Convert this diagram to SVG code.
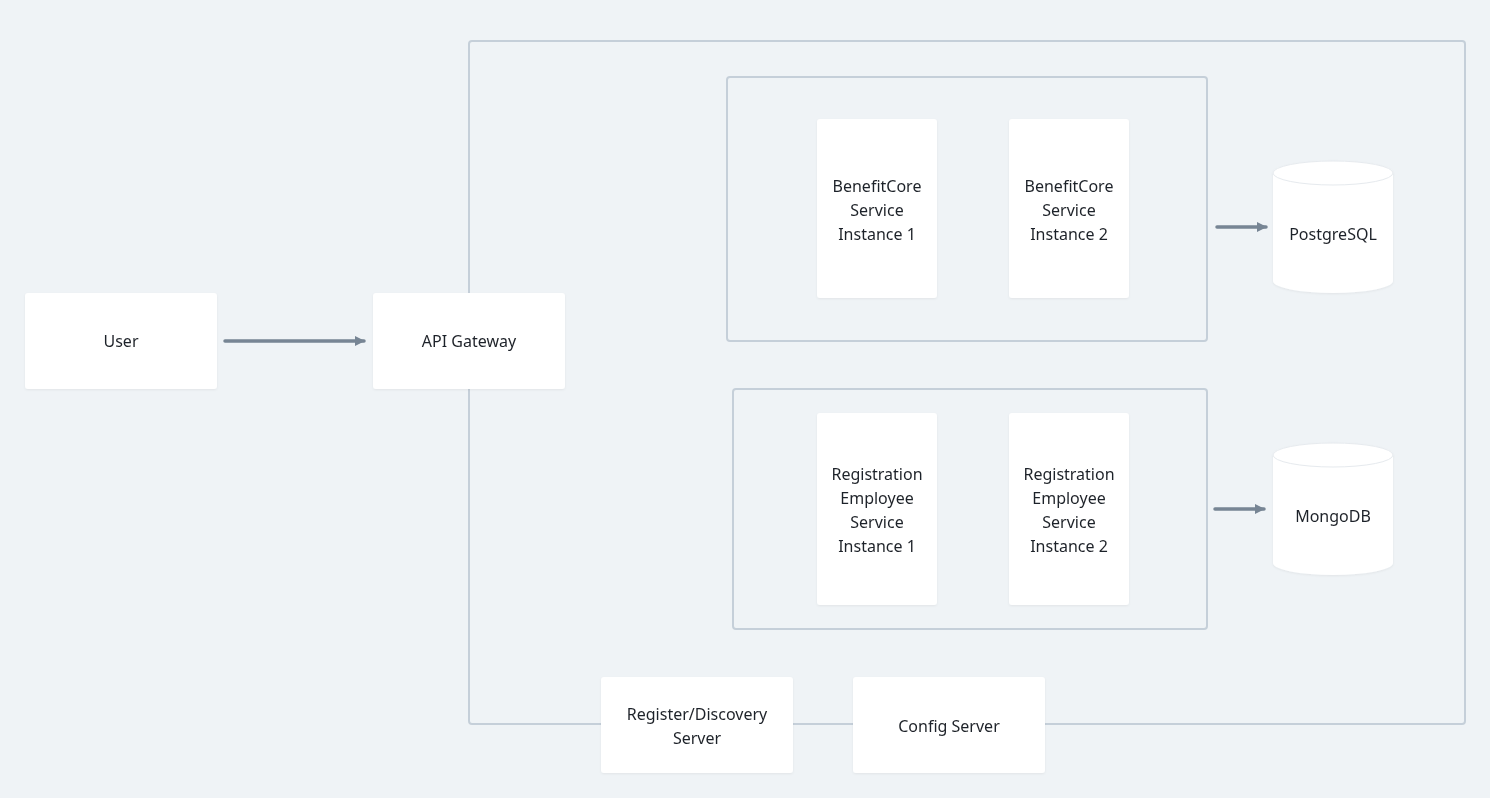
<svg xmlns="http://www.w3.org/2000/svg" width="1490" height="798" viewBox="0 0 1490 798">
<style>
.grp{fill:none;stroke:#c5cfd9;stroke-width:2}
.node{fill:#ffffff}
.lbl{font-family:"Noto Sans","DejaVu Sans",sans-serif;font-size:16px;fill:#1f2329;text-anchor:middle}
.edge{stroke:#778594;stroke-width:3.5;fill:none;stroke-linecap:round}
</style>
<defs>
<marker id="ah" viewBox="0 0 10 10" refX="9" refY="5" markerWidth="3" markerHeight="3.5" orient="auto" markerUnits="strokeWidth">
<path d="M0,0 L10,5 L0,10 z" fill="#778594"/>
</marker>
<filter id="sh" x="-10%" y="-10%" width="120%" height="130%">
<feDropShadow dx="0" dy="1" stdDeviation="1" flood-color="#000" flood-opacity="0.06"/>
</filter>
</defs>
<rect x="0" y="0" width="1490" height="798" fill="#eff3f6"/>
<g id="groups">
<rect class="grp" x="469" y="41" width="996" height="683" rx="3"/>
<rect class="grp" x="727" y="77" width="480" height="264" rx="3"/>
<rect class="grp" x="733" y="389" width="474" height="240" rx="3"/>
</g>
<g id="connectors">
<line class="edge" x1="225" y1="341" x2="364" y2="341" marker-end="url(#ah)"/>
<line class="edge" x1="1217" y1="227" x2="1266" y2="227" marker-end="url(#ah)"/>
<line class="edge" x1="1215" y1="509" x2="1264" y2="509" marker-end="url(#ah)"/>
</g>
<g id="user" filter="url(#sh)"><rect class="node" x="25" y="293" width="192" height="96" rx="3"/><text class="lbl" x="121" y="347">User</text></g>
<g id="api-gateway" filter="url(#sh)"><rect class="node" x="373" y="293" width="192" height="96" rx="3"/><text class="lbl" x="469" y="347">API Gateway</text></g>
<g id="benefit1" filter="url(#sh)"><rect class="node" x="817" y="119" width="120" height="179" rx="3"/><text class="lbl" x="877" y="192">BenefitCore</text><text class="lbl" x="877" y="216">Service</text><text class="lbl" x="877" y="240">Instance 1</text></g>
<g id="benefit2" filter="url(#sh)"><rect class="node" x="1009" y="119" width="120" height="179" rx="3"/><text class="lbl" x="1069" y="192">BenefitCore</text><text class="lbl" x="1069" y="216">Service</text><text class="lbl" x="1069" y="240">Instance 2</text></g>
<g id="reg1" filter="url(#sh)"><rect class="node" x="817" y="413" width="120" height="192" rx="3"/><text class="lbl" x="877" y="480">Registration</text><text class="lbl" x="877" y="504">Employee</text><text class="lbl" x="877" y="528">Service</text><text class="lbl" x="877" y="552">Instance 1</text></g>
<g id="reg2" filter="url(#sh)"><rect class="node" x="1009" y="413" width="120" height="192" rx="3"/><text class="lbl" x="1069" y="480">Registration</text><text class="lbl" x="1069" y="504">Employee</text><text class="lbl" x="1069" y="528">Service</text><text class="lbl" x="1069" y="552">Instance 2</text></g>
<g id="postgres" filter="url(#sh)">
<path class="node" d="M1273,173 A60,12 0 0 1 1393,173 L1393,281 A60,12 0 0 1 1273,281 Z"/>
<ellipse cx="1333" cy="173" rx="60" ry="12" fill="#fff" stroke="#e6eaee" stroke-width="1"/>
<text class="lbl" x="1333" y="240">PostgreSQL</text></g>
<g id="mongodb" filter="url(#sh)">
<path class="node" d="M1273,455 A60,12 0 0 1 1393,455 L1393,563 A60,12 0 0 1 1273,563 Z"/>
<ellipse cx="1333" cy="455" rx="60" ry="12" fill="#fff" stroke="#e6eaee" stroke-width="1"/>
<text class="lbl" x="1333" y="522">MongoDB</text></g>
<g id="discovery" filter="url(#sh)"><rect class="node" x="601" y="677" width="192" height="96" rx="3"/><text class="lbl" x="697" y="720">Register/Discovery</text><text class="lbl" x="697" y="744">Server</text></g>
<g id="config" filter="url(#sh)"><rect class="node" x="853" y="677" width="192" height="96" rx="3"/><text class="lbl" x="949" y="732">Config Server</text></g>
</svg>
